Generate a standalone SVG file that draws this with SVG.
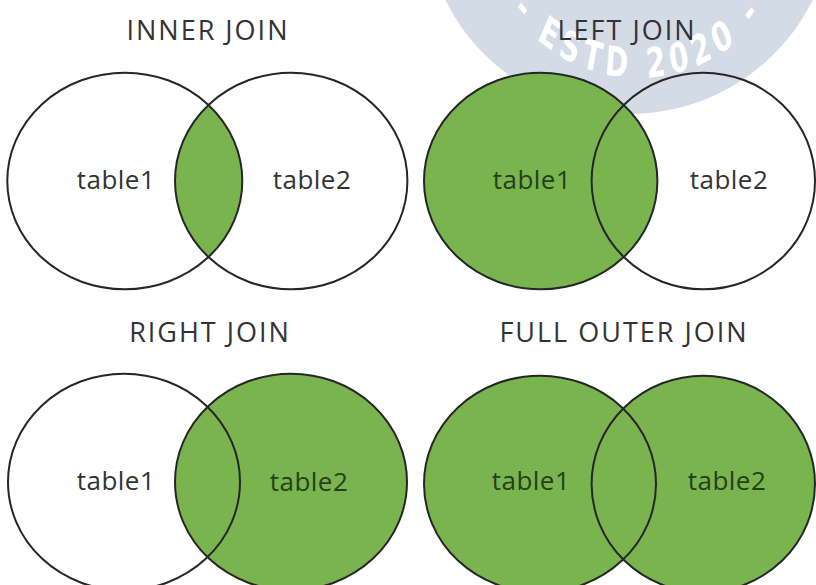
<svg xmlns="http://www.w3.org/2000/svg" width="816" height="585" viewBox="0 0 816 585">
  <defs>
    <style>
      .ring { stroke: #262626; stroke-width: 2; fill: none; }
      .fill { fill: #79b44f; stroke: none; }
      .title { font-family: "Open Sans", "Noto Sans", sans-serif; font-size: 27px; fill: #333333; text-anchor: middle; letter-spacing: 2px; }
      .label { font-family: "Open Sans", "Noto Sans", sans-serif; font-size: 26px; fill: #333333; text-anchor: middle; letter-spacing: 0.5px; }
      .label.ongreen { fill: #24401a; }
      .wm { font-family: "DejaVu Sans Condensed", "DejaVu Sans", sans-serif; font-weight: bold; font-size: 41px; fill: #ffffff; letter-spacing: 7px; }
    </style>
    <path id="wmArc" d="M 434.1 -60.75 A 202.7 152 0 0 0 837.9 -60.75"/>
    <clipPath id="clipInnerL"><ellipse cx="124.8" cy="181" rx="117.5" ry="108.3"/></clipPath>
  </defs>
  <rect width="816" height="585" fill="#ffffff"/>

  <g id="watermark">
    <circle cx="629" cy="-91" r="205" fill="#d3dbe6"/>
    <g transform="translate(638 0) scale(0.75 1) translate(-636 0)">
      <text class="wm"><textPath href="#wmArc" startOffset="50%" text-anchor="middle">- ESTD 2020 -</textPath></text>
    </g>
  </g>

  <g id="inner-join">
    <ellipse cx="291.2" cy="181" rx="116.2" ry="108.3" class="fill" clip-path="url(#clipInnerL)"/>
    <ellipse cx="124.8" cy="181" rx="117.5" ry="108.3" class="ring"/>
    <ellipse cx="291.2" cy="181" rx="116.2" ry="108.3" class="ring"/>
    <text x="208" y="40" class="title">INNER JOIN</text>
    <text x="116" y="189" class="label">table1</text>
    <text x="312" y="189" class="label">table2</text>
  </g>

  <g id="left-join">
    <ellipse cx="540.7" cy="181" rx="116.7" ry="108.3" class="fill"/>
    <ellipse cx="540.7" cy="181" rx="116.7" ry="108.3" class="ring"/>
    <ellipse cx="703.3" cy="181" rx="111.7" ry="108.3" class="ring"/>
    <text x="627" y="40" class="title">LEFT JOIN</text>
    <text x="532" y="189" class="label ongreen">table1</text>
    <text x="729" y="189" class="label">table2</text>
  </g>

  <g id="right-join">
    <ellipse cx="291" cy="482" rx="116" ry="108.3" class="fill"/>
    <ellipse cx="124" cy="482" rx="116" ry="108.3" class="ring"/>
    <ellipse cx="291" cy="482" rx="116" ry="108.3" class="ring"/>
    <text x="210" y="342" class="title">RIGHT JOIN</text>
    <text x="116" y="490" class="label">table1</text>
    <text x="309" y="491" class="label ongreen">table2</text>
  </g>

  <g id="full-outer-join">
    <ellipse cx="540" cy="484" rx="116" ry="108.3" class="fill"/>
    <ellipse cx="703.3" cy="484" rx="111.7" ry="108.3" class="fill"/>
    <ellipse cx="540" cy="484" rx="116" ry="108.3" class="ring"/>
    <ellipse cx="703.3" cy="484" rx="111.7" ry="108.3" class="ring"/>
    <text x="624" y="342" class="title">FULL OUTER JOIN</text>
    <text x="531" y="490" class="label ongreen">table1</text>
    <text x="727" y="490" class="label ongreen">table2</text>
  </g>

  <g id="connectors"/>
</svg>
